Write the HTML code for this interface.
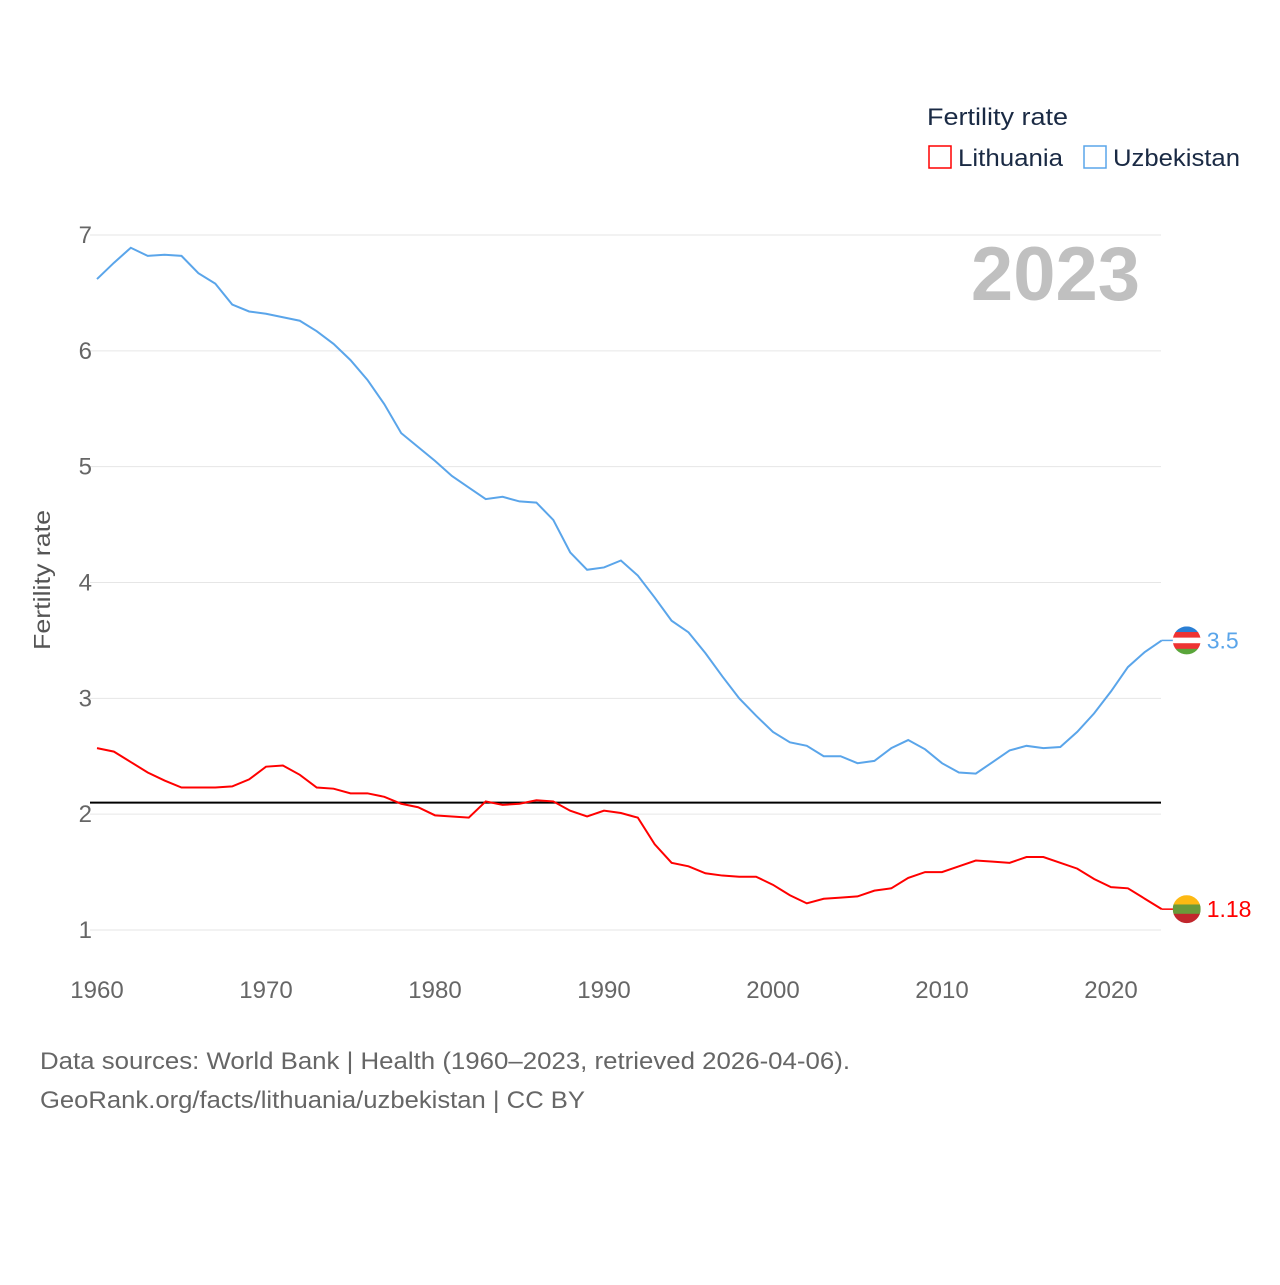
<!DOCTYPE html>
<html><head><meta charset="utf-8"><style>
body{margin:0;background:#fff;font-family:"Liberation Sans",sans-serif;}
svg text{font-family:"Liberation Sans",sans-serif;}
</style></head><body>
<svg id="chart" width="1280" height="1280" viewBox="0 0 1280 1280" xmlns="http://www.w3.org/2000/svg">
<rect width="1280" height="1280" fill="#fff"/>
<g id="grid"></g>
<g id="series"></g>
<text x="1140" y="300" text-anchor="end" font-size="76" font-weight="bold" fill="#c0c0c0">2023</text>
<text transform="translate(50,580) rotate(-90)" text-anchor="middle" font-size="23" fill="#555" textLength="140" lengthAdjust="spacingAndGlyphs">Fertility rate</text>
<g>
<text x="927" y="125" font-size="24" fill="#1a2a44" textLength="141" lengthAdjust="spacingAndGlyphs">Fertility rate</text>
<g><rect x="929" y="146" width="22" height="22" fill="none" stroke="#f00" stroke-width="1.5"/><text x="958" y="166" font-size="24" fill="#1a2a44" textLength="105" lengthAdjust="spacingAndGlyphs">Lithuania</text></g>
<g><rect x="1084" y="146" width="22" height="22" fill="none" stroke="#5aa5ea" stroke-width="1.5"/><text x="1113" y="166" font-size="24" fill="#1a2a44" textLength="127" lengthAdjust="spacingAndGlyphs">Uzbekistan</text></g>
</g>
<text x="40" y="1069" font-size="24" fill="#666" textLength="810" lengthAdjust="spacingAndGlyphs">Data sources: World Bank | Health (1960–2023, retrieved 2026-04-06).</text>
<text x="40" y="1108" font-size="24" fill="#666" textLength="545" lengthAdjust="spacingAndGlyphs">GeoRank.org/facts/lithuania/uzbekistan | CC BY</text>
</svg>
<script>
const years=[];for(let y=1960;y<=2023;y++)years.push(y);
const uzbekistan=[6.62,6.76,6.89,6.82,6.83,6.82,6.67,6.58,6.40,6.34,6.32,6.29,6.26,6.17,6.06,5.92,5.75,5.54,5.29,5.17,5.05,4.92,4.82,4.72,4.74,4.70,4.69,4.54,4.26,4.11,4.13,4.19,4.06,3.87,3.67,3.57,3.39,3.19,3.00,2.85,2.71,2.62,2.59,2.50,2.50,2.44,2.46,2.57,2.64,2.56,2.44,2.36,2.35,2.45,2.55,2.59,2.57,2.58,2.71,2.87,3.06,3.27,3.40,3.5];
const lithuania=[2.57,2.54,2.45,2.36,2.29,2.23,2.23,2.23,2.24,2.30,2.41,2.42,2.34,2.23,2.22,2.18,2.18,2.15,2.09,2.06,1.99,1.98,1.97,2.11,2.08,2.09,2.12,2.11,2.03,1.98,2.03,2.01,1.97,1.74,1.58,1.55,1.49,1.47,1.46,1.46,1.39,1.30,1.23,1.27,1.28,1.29,1.34,1.36,1.45,1.50,1.50,1.55,1.60,1.59,1.58,1.63,1.63,1.58,1.53,1.44,1.37,1.36,1.27,1.18];
const yTicks=[1,2,3,4,5,6,7];
const xTicks=[1960,1970,1980,1990,2000,2010,2020];
const replacementRate=2.1;
const X=y=>97+(y-1960)*16.9;
const Y=v=>930-(v-1)*115.83;
const NS="http://www.w3.org/2000/svg";
const grid=document.getElementById('grid'),ser=document.getElementById('series');
function mk(tag,attrs,parent){const e=document.createElementNS(NS,tag);for(const k in attrs)e.setAttribute(k,attrs[k]);parent.appendChild(e);return e;}
yTicks.forEach(t=>{
 const l=mk('line',{x1:90,x2:1161,y1:Y(t),y2:Y(t),stroke:'#e6e6e6','stroke-width':1},grid);
 
 
 const tx=mk('text',{x:92,y:Y(t)+8,'text-anchor':'end','font-size':24,fill:'#666'},grid);tx.textContent=t;
 
 
});
xTicks.forEach(t=>{
 const tx=mk('text',{x:X(t),y:998,'text-anchor':'middle','font-size':24,fill:'#666'},grid);tx.textContent=t;
 
 
});
const ref=mk('line',{x1:90,x2:1161,y1:Y(replacementRate),y2:Y(replacementRate),stroke:'#000','stroke-width':2},ser);


function line(vals,color,name){
 const p=mk('polyline',{points:vals.map((v,i)=>X(years[i])+','+Y(v)).join(' '),fill:'none',stroke:color,'stroke-width':2},ser);
 
 
}
line(uzbekistan,'#5aa5ea','uzbekistan-line');
line(lithuania,'#f00','lithuania-line');
function endLabel(vals,color,name,flag){
 const v=vals[vals.length-1],x=X(2023),y=Y(v);
 mk('line',{x1:x,x2:x+12,y1:y,y2:y,stroke:color,'stroke-width':1.5},ser);
 const g=mk('g',{},ser);
 
 
 const cx=x+25;
 mk('clipPath',{id:'c'+name},g);
 mk('circle',{cx:cx,cy:y,r:14},g.lastChild);
 const gg=mk('g',{'clip-path':'url(#c'+name+')'},g);
 flag.forEach((c,i)=>mk('rect',{x:cx-14,y:y-14+i*28/flag.length,width:28,height:28/flag.length+0.5,fill:c},gg));
 const t=mk('text',{x:x+45,y:y+8,'font-size':23,fill:color},ser);t.textContent=v;
 
 
}
endLabel(uzbekistan,'#5aa5ea','uzbekistan',['#2a7fd4','#e33','#fff','#e33','#5aa53a']);
endLabel(lithuania,'#f00','lithuania',['#fdb913','#6a9a3a','#c1272d']);
</script>
</body></html>
